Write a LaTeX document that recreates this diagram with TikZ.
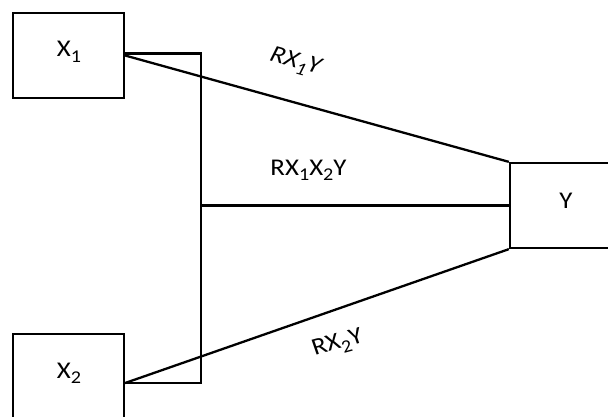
\documentclass[tikz,border=0pt]{standalone}
\usepackage{fontspec}
\setmainfont{Carlito}
\usetikzlibrary{calc}
\newcommand\sbs[1]{\raisebox{-0.24em}{\fontsize{18}{20}\selectfont #1}}
\begin{document}
\begin{tikzpicture}[x=1pt,y=-1pt,
  box/.style={draw=black,line width=2.3pt,rectangle,inner sep=0pt,minimum width=111pt,minimum height=85pt},
  conn/.style={draw=black,line width=2.3pt},
  lbl/.style={font=\fontsize{24}{28}\selectfont,inner sep=0pt,xscale=1.12}]
\useasboundingbox (0,0) rectangle (608,416);
\node[box] (X1) at (68.5,55.5) {};
\node[box] (X2) at (68.5,376.5) {};
\node[box] (Y) at (565.5,205.5) {};
\node[lbl,anchor=base] (tX1) at (69,56.5) {X\sbs{1}};
\node[lbl,anchor=base] (tX2) at (69,378) {X\sbs{2}};
\node[lbl,anchor=base] (tY) at (566,208) {Y};
\coordinate (a1) at ($(X1.east)+(0,-2)$);
\coordinate (a2) at ($(X2.east)+(0,6.5)$);
\coordinate (b1) at (201,53.5);
\coordinate (b2) at (201,383);
\coordinate (bm) at (201,205.5);
\draw[conn] (a1) -- (b1) -- (b2) -- (a2);
\draw[conn] (X1.east) -- (Y.north west);
\draw[conn] (a2) -- (Y.south west);
\draw[conn] (bm) -- (Y.west);
\node[lbl,rotate=-17] (l1) at (295,63) {\itshape RX\sbs{1}Y};
\node[lbl,anchor=base] (l2) at (308.5,175) {RX\sbs{1}X\sbs{2}Y};
\node[lbl,rotate=17] (l3) at (338,344) {RX\sbs{2}Y};
\end{tikzpicture}
\end{document}
